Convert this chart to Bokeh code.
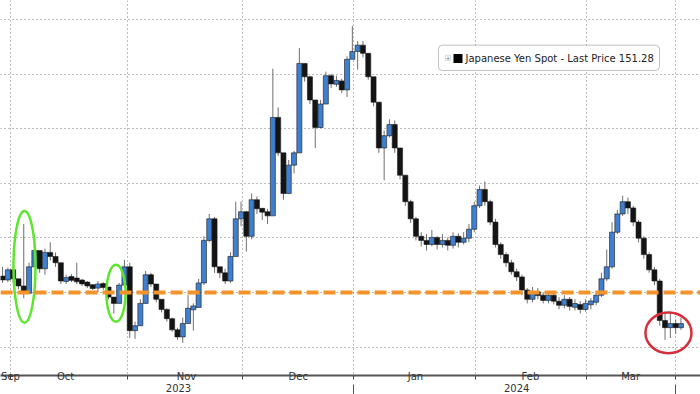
from bokeh.plotting import figure
from bokeh.models import Range1d, FixedTicker, LinearAxis, Span, BoxAnnotation, Label, ColumnDataSource
from bokeh.embed import file_html
from bokeh.resources import INLINE

# ---------------- data (USD/JPY, inverted axis: yen strength up) ----------------
day = list(range(-3, 126))  # trading-day index
close = [149.54, 149.17, 149.50, 149.76, 150.03, 149.06, 148.46, 149.13, 148.53, 148.68,
         148.91, 149.58, 149.47, 149.50, 149.58, 149.65, 149.73, 149.84, 149.69, 149.80,
         150.17, 150.40, 149.73, 149.06, 151.40, 151.22, 150.40, 149.35, 149.69, 150.25,
         150.62, 150.96, 151.37, 151.63, 151.14, 150.58, 150.55, 149.65, 148.09, 147.30,
         149.06, 149.28, 149.58, 148.68, 147.30, 147.04, 147.94, 146.60, 146.93, 147.04,
         147.19, 143.58, 144.88, 146.37, 145.33, 144.88, 141.60, 142.09, 142.94, 143.95,
         143.09, 142.05, 142.35, 142.24, 142.57, 141.45, 141.16, 140.93, 141.23, 142.09,
         143.02, 144.70, 144.25, 143.84, 144.70, 145.70, 146.67, 147.30, 147.94, 148.09,
         148.24, 147.98, 148.24, 148.09, 148.27, 147.94, 148.16, 148.01, 147.68, 146.82,
         146.22, 146.67, 147.42, 148.24, 148.61, 148.91, 149.24, 149.43, 149.91, 150.25,
         149.99, 150.10, 150.29, 150.10, 150.32, 150.47, 150.25, 150.51, 150.44, 150.62,
         150.40, 150.36, 150.10, 149.50, 149.06, 147.79, 147.12, 146.67, 146.90, 147.42,
         148.01, 148.61, 149.17, 149.58, 151.03, 151.29, 151.14, 151.29, 151.14]
low = [149.06, 149.09, 149.06, 149.54, 147.49, 148.91, 148.24, 148.53, 148.39, 148.16,
       148.53, 148.98, 149.35, 149.32, 148.91, 149.50, 149.58, 149.69, 149.58, 149.62,
       149.88, 150.21, 149.65, 148.80, 148.91, 151.07, 150.25, 149.21, 149.28, 149.73,
       150.25, 150.58, 150.92, 151.29, 150.92, 150.10, 150.40, 149.50, 147.94, 147.12,
       147.23, 149.06, 149.13, 148.53, 146.67, 146.67, 147.01, 146.37, 146.48, 146.90,
       146.93, 141.79, 143.21, 145.07, 145.14, 144.81, 141.04, 141.60, 142.05, 143.02,
       142.94, 141.90, 141.98, 142.05, 142.16, 141.34, 140.22, 140.78, 140.78, 141.23,
       142.20, 143.02, 144.06, 143.65, 143.69, 144.70, 145.70, 146.60, 147.23, 147.79,
       147.86, 147.71, 147.94, 147.86, 147.98, 147.79, 147.83, 147.79, 147.49, 146.67,
       146.08, 145.93, 146.60, 147.30, 148.16, 148.53, 148.80, 149.13, 149.35, 149.84,
       149.80, 149.84, 149.99, 149.95, 150.03, 150.17, 150.10, 150.17, 150.25, 150.32,
       150.25, 150.21, 149.95, 149.28, 148.42, 147.42, 146.97, 146.45, 146.52, 146.82,
       147.34, 147.94, 148.53, 149.06, 149.50, 150.70, 150.70, 150.99, 150.92]
high = [149.65, 149.62, 149.65, 149.88, 150.21, 149.54, 148.68, 149.28, 149.35, 148.83,
        149.06, 149.69, 149.69, 149.62, 149.69, 149.76, 149.84, 149.91, 149.99, 149.91,
        150.25, 150.77, 150.32, 149.69, 151.67, 151.70, 150.85, 150.40, 149.80, 150.36,
        150.73, 151.07, 151.44, 151.74, 151.85, 150.85, 151.40, 150.55, 149.73, 148.16,
        149.28, 149.47, 149.69, 149.65, 148.61, 147.57, 148.50, 148.05, 147.12, 147.34,
        147.49, 147.12, 144.99, 146.60, 146.37, 145.63, 144.88, 142.27, 143.09, 144.70,
        143.95, 143.02, 142.50, 142.46, 142.68, 142.83, 141.34, 141.83, 141.38, 142.20,
        143.17, 144.88, 145.89, 144.32, 144.88, 145.85, 146.82, 147.45, 148.09, 148.31,
        148.46, 148.31, 148.42, 148.35, 148.46, 148.39, 148.35, 148.24, 148.16, 147.79,
        146.90, 146.82, 147.53, 148.35, 148.76, 149.06, 149.35, 149.58, 150.10, 150.40,
        150.36, 150.25, 150.40, 150.40, 150.44, 150.62, 150.58, 150.66, 150.66, 150.77,
        150.70, 150.62, 150.47, 150.17, 149.58, 149.13, 147.86, 147.19, 147.12, 147.57,
        148.16, 148.76, 149.28, 149.73, 151.22, 151.74, 151.67, 151.52, 151.37]
first_open = 149.40
assert len(day) == len(close) == len(low) == len(high)

month_names = ["Sep", "Oct", "Nov", "Dec", "Jan", "Feb", "Mar"]
month_label_pos = [-1.5, 8.9, 31.7, 52.8, 74.9, 96.6, 115.5]
month_bounds = [-1.5, 20.6, 42.3, 63.2, 86.2, 107.2, 124.0]
year_names = ["2023", "2024"]
year_label_pos = [30.2, 94.0]
year_bounds = [63.2, 124.0]
price_grid = [140, 142, 144, 146, 148, 150, 152]
level = 150.0
last_price = 151.28
legend_text = "Japanese Yen Spot - Last Price %.2f" % last_price

# hand-drawn highlight ellipses: (x, y, width, height, colour)
ell_x = [1.14, 18.4, 122.65]
ell_y = [149.06, 150.03, 151.48]
ell_w = [4.15, 3.6, 8.7]
ell_h = [4.1, 2.09, 1.49]
ell_c = ["#5ee62e", "#5ee62e", "#d42f3a"]

# ---------------- derived ----------------
opn = [first_open] + close[:-1]
colors = ["#3f7fd0" if c < o else "#141414" for c, o in zip(close, opn)]
body_top, body_bot = [], []
for o, c in zip(opn, close):
    mid = (o + c) / 2.0
    half = max(abs(o - c) / 2.0, 0.07)
    body_top.append(mid - half)
    body_bot.append(mid + half)
src = ColumnDataSource(dict(x=day, bt=body_top, bb=body_bot, lo=low, hi=high, col=colors))

p = figure(width=700, height=394, output_backend="svg", toolbar_location=None,
           x_range=Range1d(-3.387, 128.69), y_range=Range1d(153.045, 139.292),
           min_border_left=0, min_border_right=0, min_border_top=0, min_border_bottom=0,
           background_fill_color="white", border_fill_color="white", outline_line_color=None)

p.yaxis.visible = False
p.ygrid.ticker = FixedTicker(ticks=price_grid)
p.xgrid.ticker = FixedTicker(ticks=month_bounds)
for g in (p.xgrid, p.ygrid):
    g.grid_line_color = "#7a7a7a"
    g.grid_line_dash = "1 3"
    g.grid_line_width = 1

ax = p.xaxis[0]
ax.ticker = FixedTicker(ticks=month_label_pos, minor_ticks=month_bounds)
ax.major_label_overrides = {pos: nm for pos, nm in zip(month_label_pos, month_names)}
ax.major_tick_line_color = None
ax.major_tick_out = 0
ax.major_tick_in = 0
ax.minor_tick_out = 4
ax.minor_tick_in = 0
ax.minor_tick_line_color = "#444444"
ax.axis_line_color = "#555555"
ax.axis_line_width = 2
ax.major_label_standoff = -9
ax.major_label_text_font = "DejaVu Sans"
ax.major_label_text_font_size = "10px"
ax.major_label_text_color = "#333333"

yax = LinearAxis(ticker=FixedTicker(ticks=year_label_pos, minor_ticks=year_bounds),
                 major_label_overrides={pos: nm for pos, nm in zip(year_label_pos, year_names)},
                 axis_line_color=None, major_tick_line_color=None, major_tick_out=0, major_tick_in=0,
                 minor_tick_out=11, minor_tick_in=0, minor_tick_line_color="#555555",
                 major_label_standoff=-12, major_label_text_font="DejaVu Sans",
                 major_label_text_font_size="10px", major_label_text_color="#333333")
p.add_layout(yax, "below")

# price bars
p.segment(x0="x", y0="lo", x1="x", y1="hi", source=src, line_color="#6e6e6e", line_width=1)
p.vbar(x="x", top="bt", bottom="bb", width=0.95, source=src, fill_color="col",
       line_color="#1a1a1a", line_width=0.6)

# 150 level
p.add_layout(Span(location=level, dimension="width", line_color="#f4932a", line_width=4, line_dash="12 5"))

# highlight ellipses
p.ellipse(x=ell_x, y=ell_y, width=ell_w, height=ell_h, fill_color=None, line_color=ell_c, line_width=2.5)

# legend box
p.add_layout(BoxAnnotation(left=79.25, right=120.95, top=140.93, bottom=141.86,
                           fill_color="white", fill_alpha=1, line_color="#333333", line_width=1,
                           border_radius=4))
p.add_layout(BoxAnnotation(left=80.57, right=81.51, top=141.30, bottom=141.49,
                           fill_color="white", fill_alpha=1, line_color="#888888", line_width=1))
p.add_layout(Label(x=81.04, y=141.40, text="+", text_align="center", text_baseline="middle",
                   text_font="DejaVu Sans", text_font_size="6px", text_color="#777777"))
p.add_layout(BoxAnnotation(left=82.08, right=83.78, top=141.25, bottom=141.58,
                           fill_color="black", fill_alpha=1, line_color=None))
p.add_layout(Label(x=84.35, y=141.42, text=legend_text, text_baseline="middle",
                   text_font="DejaVu Sans", text_font_size="10px", text_color="#222222"))

open("out.html", "w").write(file_html(p, INLINE))
